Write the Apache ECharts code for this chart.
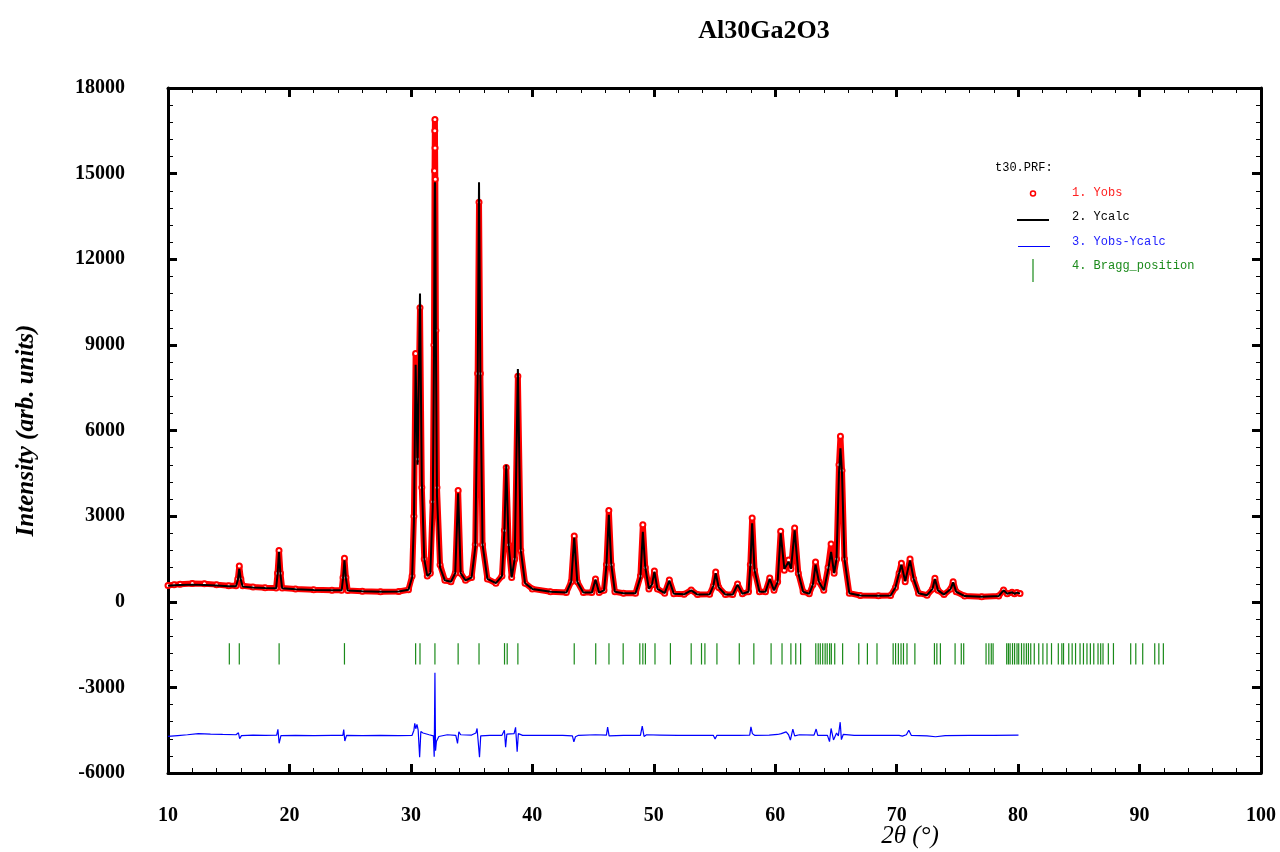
<!DOCTYPE html>
<html>
<head>
<meta charset="utf-8">
<script src="https://cdn.jsdelivr.net/npm/echarts@6/dist/echarts.min.js"></script>
<style>
html,body{margin:0;padding:0;background:#fff;}
#chart{width:1280px;height:852px;}
</style>
</head>
<body>
<div id="chart"></div>
<script>
// ---- data ----
const titleText = 'Al30Ga2O3';
const xAxisTitle = '2θ (°)';
const yAxisTitle = 'Intensity (arb. units)';
const xTicks = [10, 20, 30, 40, 50, 60, 70, 80, 90, 100];
const yTicks = [-6000, -3000, 0, 3000, 6000, 9000, 12000, 15000, 18000];

const twoTheta = [10.0,10.5,11.0,12.0,13.0,14.0,15.0,15.6,15.75,15.87,16.0,16.15,17.0,18.0,18.9,19.02,19.14,19.26,19.4,20.5,22.0,23.5,24.3,24.41,24.53,24.65,24.8,26.0,27.5,29.0,29.8,30.1,30.25,30.39,30.55,30.75,30.9,31.1,31.35,31.6,31.8,31.9,31.95,31.97,31.98,31.99,32.01,32.06,32.15,32.4,32.8,33.3,33.65,33.89,34.1,34.5,35.0,35.3,35.5,35.61,35.72,35.9,36.3,37.0,37.5,37.7,37.85,38.05,38.3,38.55,38.81,39.05,39.4,40.0,41.5,42.8,43.2,43.45,43.7,44.2,44.9,45.2,45.5,45.9,46.1,46.3,46.5,46.8,47.5,48.5,48.9,49.1,49.3,49.6,49.85,50.05,50.3,50.9,51.28,51.65,52.5,53.08,53.6,54.6,54.9,55.1,55.35,55.9,56.5,56.9,57.3,57.8,57.95,58.1,58.3,58.7,59.2,59.55,59.9,60.2,60.45,60.75,61.1,61.3,61.6,61.9,62.3,62.8,63.1,63.32,63.6,64.0,64.35,64.6,64.85,65.05,65.25,65.37,65.5,65.7,66.1,67.0,68.5,69.5,69.9,70.2,70.39,70.7,71.1,71.4,71.8,72.5,72.95,73.15,73.4,73.9,74.45,74.65,74.9,75.6,77.0,78.4,78.8,79.1,79.5,79.7,79.9,80.16];
const yObs = [570,600,610,640,630,600,560,560,800,1250,800,560,520,490,480,1000,1800,1000,480,450,420,400,400,850,1520,850,390,370,350,360,420,900,3000,8700,5000,10300,4000,1500,900,1000,3500,9000,15100,16500,16900,15900,14800,9500,4000,1300,750,700,1000,3900,1000,750,850,2000,8000,14000,8000,2000,800,650,900,2500,4700,2000,850,1500,7900,1800,650,450,350,320,700,2300,700,320,320,800,320,400,1300,3200,1300,350,300,300,900,2700,1200,450,600,1080,450,300,760,280,260,410,250,260,550,1040,500,250,250,620,280,350,1300,2930,1100,350,350,830,400,700,2470,1100,1460,1150,2580,1000,350,280,600,1390,700,400,1200,2020,1000,1500,4800,5800,4600,1500,300,220,210,220,500,1000,1345,700,1500,800,300,230,450,820,400,250,450,700,350,200,175,200,410,280,330,280,320,290];
const yCalc = [560,580,590,600,590,570,540,540,760,1150,760,530,500,480,470,950,1750,960,470,440,415,400,400,800,1450,820,390,370,350,360,420,850,2800,8300,4800,10800,4200,1500,900,1000,3300,8500,13500,14600,14700,14600,13500,9000,3700,1200,750,700,1000,3800,1000,750,850,1900,7800,14700,8000,2000,800,650,900,2500,4800,2000,850,1500,8150,1800,650,450,350,320,700,2250,700,320,320,780,320,400,1250,3050,1300,350,300,300,850,2450,1200,450,600,1050,450,300,740,280,260,400,250,260,550,1000,500,250,250,600,280,350,1250,2750,1100,350,350,800,400,700,2400,1150,1400,1150,2500,1000,350,280,600,1300,700,400,1100,1750,1000,1500,4500,5380,4500,1500,300,220,210,220,500,1000,1300,720,1450,800,300,230,450,800,400,250,450,680,350,200,175,200,400,280,330,280,320,290];

const diffTheta = [10.0,10.8,11.6,12.5,13.5,14.5,15.6,15.8,15.9,16.05,17.0,18.0,18.95,19.05,19.15,19.3,20.5,22.0,23.5,24.4,24.47,24.56,24.7,26.0,27.5,29.0,30.1,30.25,30.32,30.4,30.5,30.6,30.72,30.82,31.0,31.5,31.85,31.92,31.98,32.03,32.1,32.3,33.0,33.7,33.84,33.95,34.1,35.0,35.35,35.45,35.57,35.65,35.75,36.5,37.5,37.7,37.8,37.9,38.5,38.62,38.75,38.85,39.2,40.5,42.5,43.3,43.42,43.55,43.8,45.2,46.1,46.2,46.32,47.5,48.9,49.05,49.2,49.4,50.5,52.0,53.5,54.9,55.05,55.2,57.0,57.9,58.0,58.12,58.3,59.5,60.2,60.5,60.9,61.1,61.25,61.45,61.6,62.0,63.2,63.37,63.5,64.3,64.47,64.6,64.8,65.05,65.2,65.35,65.45,65.6,66.5,68.5,70.2,70.47,70.8,71.0,71.2,72.5,73.2,74.0,76.0,78.0,80.03];
const diffVal = [-4720,-4690,-4660,-4620,-4640,-4650,-4660,-4590,-4800,-4690,-4670,-4680,-4670,-4470,-4960,-4690,-4680,-4690,-4680,-4680,-4480,-4880,-4680,-4690,-4680,-4690,-4680,-4500,-4260,-4450,-4300,-4500,-5450,-4550,-4600,-4660,-4700,-5430,-2490,-5220,-4900,-4720,-4660,-4680,-4960,-4560,-4660,-4670,-4600,-4440,-4460,-5450,-4700,-4680,-4680,-4500,-5100,-4640,-4620,-4400,-5250,-4620,-4680,-4680,-4680,-4700,-4910,-4730,-4680,-4660,-4670,-4390,-4700,-4680,-4680,-4360,-4720,-4660,-4670,-4680,-4680,-4680,-4810,-4680,-4680,-4670,-4380,-4620,-4680,-4670,-4650,-4620,-4560,-4660,-4850,-4460,-4700,-4660,-4670,-4460,-4680,-4680,-4900,-4440,-4840,-4600,-4700,-4220,-4830,-4650,-4680,-4680,-4680,-4710,-4660,-4500,-4680,-4700,-4730,-4690,-4680,-4680,-4670];

const braggPos = [15.05,15.87,19.15,24.53,30.39,30.75,31.98,33.89,35.61,37.71,37.93,38.81,43.45,45.22,46.31,47.48,48.85,49.1,49.31,50.1,51.37,53.08,53.93,54.21,55.2,57.04,58.24,59.66,60.56,61.29,61.69,62.09,63.34,63.54,63.71,63.91,64.11,64.28,64.48,64.62,64.9,65.55,66.88,67.59,68.38,69.71,69.91,70.14,70.36,70.56,70.85,71.5,73.11,73.31,73.6,74.81,75.32,75.52,77.36,77.59,77.79,77.94,79.06,79.2,79.34,79.54,79.71,79.91,80.05,80.28,80.48,80.68,80.85,81.04,81.33,81.7,82.04,82.38,82.75,83.31,83.6,83.74,84.17,84.45,84.73,85.1,85.38,85.67,85.95,86.23,86.58,86.8,86.99,87.43,87.85,89.27,89.69,90.26,91.25,91.59,91.96];
const braggTop = -1450;
const braggBottom = -2200;

const legendTitle = 't30.PRF:';
const legendNames = ['1. Yobs', '2. Ycalc', '3. Yobs-Ycalc', '4. Bragg_position'];

// ---- chart ----
const obsData = twoTheta.map((t, i) => [t, yObs[i]]);
const calcData = twoTheta.map((t, i) => [t, yCalc[i]]);
const diffData = diffTheta.map((t, i) => [t, diffVal[i]]);
const braggData = braggPos.map(t => [t, braggTop, braggBottom]);

const serif = '"Liberation Serif", "Times New Roman", serif';
const mono = '"Liberation Mono", "DejaVu Sans Mono", monospace';

function xAxisCfg(pos, showLabel) {
  return {
    type: 'value', position: pos, min: xTicks[0], max: xTicks[xTicks.length - 1], interval: 10,
    axisLine: { show: true, onZero: false, lineStyle: { color: '#000', width: 3 } },
    axisTick: { show: true, inside: true, length: 9, lineStyle: { color: '#000', width: 3 } },
    minorTick: { show: true, splitNumber: 5, length: 5, lineStyle: { color: '#000', width: 1 } },
    splitLine: { show: false },
    axisLabel: { show: showLabel, color: '#000', fontFamily: serif, fontWeight: 'bold', fontSize: 20, margin: 33,
      formatter: v => String(v) },
  };
}
function yAxisCfg(pos, showLabel) {
  return {
    type: 'value', position: pos, min: yTicks[0], max: yTicks[yTicks.length - 1], interval: 3000,
    axisLine: { show: true, onZero: false, lineStyle: { color: '#000', width: 3 } },
    axisTick: { show: true, inside: true, length: 9, lineStyle: { color: '#000', width: 3 } },
    minorTick: { show: true, splitNumber: 5, length: 5, lineStyle: { color: '#000', width: 1 } },
    splitLine: { show: false },
    axisLabel: { show: showLabel, color: '#000', fontFamily: serif, fontWeight: 'bold', fontSize: 20, margin: 43,
      formatter: v => String(v) },
  };
}

const yLeft = yAxisCfg('left', true);
yLeft.name = yAxisTitle;
yLeft.nameLocation = 'middle';
yLeft.nameGap = 129;
yLeft.nameTextStyle = { fontFamily: serif, fontStyle: 'italic', fontWeight: 'bold', fontSize: 25, color: '#000' };

const chart = echarts.init(document.getElementById('chart'), null, { renderer: 'canvas' });
const legX = 995, legY = 169, legDy = 24.5, symX = 1033, txtX = 1072;
chart.setOption({
  animation: false,
  backgroundColor: '#fff',
  title: { text: titleText, left: 759, top: 13, textAlign: 'center',
    textStyle: { fontFamily: serif, fontWeight: 'bold', fontSize: 26, color: '#000' } },
  grid: { left: 168, right: 19, top: 88, bottom: 79 },
  xAxis: [xAxisCfg('bottom', true), xAxisCfg('top', false)],
  yAxis: [yLeft, yAxisCfg('right', false)],
  series: [
    { name: 'Yobs', type: 'line', data: obsData, symbol: 'emptyCircle', symbolSize: 5, showAllSymbol: true,
      itemStyle: { color: '#ff0000', borderColor: '#ff0000', borderWidth: 1.5 },
      lineStyle: { color: '#ff0000', width: 6 }, z: 2 },
    { name: 'Ycalc', type: 'line', data: calcData, symbol: 'none',
      lineStyle: { color: '#000', width: 2 }, z: 3 },
    { name: 'Yobs-Ycalc', type: 'line', data: diffData, symbol: 'none',
      lineStyle: { color: '#0000ff', width: 1.2 }, z: 3 },
    { name: 'Bragg_position', type: 'custom', data: braggData, z: 3,
      renderItem: function (params, api) {
        const p1 = api.coord([api.value(0), api.value(1)]);
        const p2 = api.coord([api.value(0), api.value(2)]);
        return { type: 'line', shape: { x1: p1[0], y1: p1[1], x2: p2[0], y2: p2[1] },
          style: { stroke: '#1a8a1a', lineWidth: 1.2 } };
      } },
  ],
  graphic: [
    { type: 'text', x: 910, y: 836, style: { text: xAxisTitle, font: 'italic 25px ' + serif, fill: '#000',
      align: 'center', verticalAlign: 'middle' } },
    { type: 'text', left: legX, top: legY - 7, style: { text: legendTitle, font: '12px ' + mono, fill: '#000' } },
    { type: 'circle', shape: { cx: symX, cy: legY + legDy, r: 2.5 }, style: { fill: '#fff', stroke: '#ff0000', lineWidth: 1.5 } },
    { type: 'text', left: txtX, top: legY + legDy - 7, style: { text: legendNames[0], font: '12px ' + mono, fill: '#ff2020' } },
    { type: 'line', shape: { x1: 1017, y1: legY + 2 * legDy + 2, x2: 1049, y2: legY + 2 * legDy + 2 }, style: { stroke: '#000', lineWidth: 2 } },
    { type: 'text', left: txtX, top: legY + 2 * legDy - 7, style: { text: legendNames[1], font: '12px ' + mono, fill: '#000' } },
    { type: 'line', shape: { x1: 1018, y1: legY + 3 * legDy + 4, x2: 1050, y2: legY + 3 * legDy + 4 }, style: { stroke: '#0000ff', lineWidth: 1 } },
    { type: 'text', left: txtX, top: legY + 3 * legDy - 7, style: { text: legendNames[2], font: '12px ' + mono, fill: '#2020ff' } },
    { type: 'line', shape: { x1: symX, y1: legY + 4 * legDy - 8, x2: symX, y2: legY + 4 * legDy + 15 }, style: { stroke: '#1a8a1a', lineWidth: 1.2 } },
    { type: 'text', left: txtX, top: legY + 4 * legDy - 7, style: { text: legendNames[3], font: '12px ' + mono, fill: '#1a8a1a' } },
  ],
});
</script>
</body>
</html>
